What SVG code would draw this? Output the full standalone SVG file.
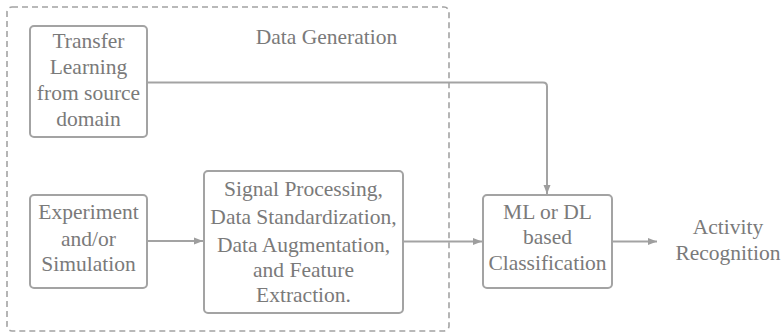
<svg xmlns="http://www.w3.org/2000/svg" width="782" height="333" viewBox="0 0 782 333">
<defs>
<marker id="ah" markerWidth="10" markerHeight="8" refX="9" refY="4" orient="auto" markerUnits="userSpaceOnUse">
<path d="M0,0.5 L9,4 L0,7.5 Z" fill="#9e9e9e"/>
</marker>
</defs>
<style>
.box{fill:#fff;stroke:#a3a3a3;stroke-width:2}
.grp{fill:none;stroke:#a3a3a3;stroke-width:1.6;stroke-dasharray:6 4}
.t{font-family:'Liberation Serif','Tinos','Times New Roman','DejaVu Serif',serif;font-size:21.5px;fill:#7a7a7a;text-anchor:middle}
.c{fill:none;stroke:#a3a3a3;stroke-width:2}
</style>
<rect width="782" height="333" fill="#fff"/>
<g id="data-generation">
<rect class="grp" x="7" y="7" width="442" height="324" rx="5"/>
<text class="t" x="326.5" y="44">Data Generation</text>
</g>
<g id="transfer">
<rect class="box" x="30" y="26" width="117" height="111" rx="4"/>
<text class="t" x="88.5" y="48">Transfer</text>
<text class="t" x="88.5" y="74">Learning</text>
<text class="t" x="88.5" y="100">from source</text>
<text class="t" x="88.5" y="126">domain</text>
</g>
<g id="experiment">
<rect class="box" x="30" y="195" width="117" height="93" rx="4"/>
<text class="t" x="88.5" y="219">Experiment</text>
<text class="t" x="88.5" y="246">and/or</text>
<text class="t" x="88.5" y="271">Simulation</text>
</g>
<g id="signal">
<rect class="box" x="204" y="171" width="199" height="142" rx="4"/>
<text class="t" x="303.5" y="196">Signal Processing,</text>
<text class="t" x="303.5" y="224">Data Standardization,</text>
<text class="t" x="303.5" y="252">Data Augmentation,</text>
<text class="t" x="303.5" y="277">and Feature</text>
<text class="t" x="303.5" y="302">Extraction.</text>
</g>
<g id="classifier">
<rect class="box" x="483" y="195" width="129" height="93" rx="4"/>
<text class="t" x="547.5" y="219">ML or DL</text>
<text class="t" x="547.5" y="244">based</text>
<text class="t" x="547.5" y="270">Classification</text>
</g>
<g id="activity">
<text class="t" x="728" y="234">Activity</text>
<text class="t" x="728" y="260">Recognition</text>
</g>
<g id="connectors">
<path class="c" d="M147,82.5 H543 Q547,82.5 547,86.5 V194" marker-end="url(#ah)"/>
<path class="c" d="M147,241 H203" marker-end="url(#ah)"/>
<path class="c" d="M403,241.5 H482" marker-end="url(#ah)"/>
<path class="c" d="M612,241.5 H657" marker-end="url(#ah)"/>
</g>
</svg>
